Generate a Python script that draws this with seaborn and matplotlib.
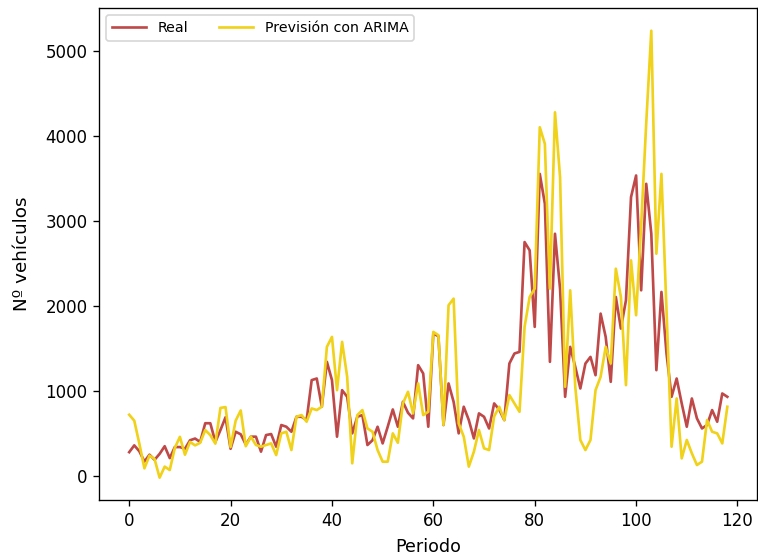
import numpy as np
import pandas as pd
import matplotlib
matplotlib.use("Agg")
import matplotlib.pyplot as plt
import seaborn as sns

# Monthly vehicle counts: observed values and the ARIMA forecast
periodo = list(range(119))

real = [280, 360, 290, 170, 250, 190, 260, 350, 210, 340, 340, 320, 420, 440, 400, 620, 620, 400, 540, 690, 320, 520, 490, 370,
        462, 462, 286, 481, 493, 344, 599, 579, 520, 696, 696, 657, 1127, 1146, 814, 1342, 1127, 462, 1009, 931, 501, 696, 716, 364, 420,
        579, 383, 579, 782, 579, 872, 743, 677, 1303, 1205, 579, 1675, 1643, 599, 1088, 872, 501, 814, 657, 442, 736, 696, 559, 853, 780,
        657, 1322, 1440, 1459, 2750, 2653, 1753, 3552, 3200, 1342, 2848, 2200, 931, 1518, 1283, 1029, 1322, 1400, 1185, 1909, 1635, 1107,
        2105, 1733, 2066, 3279, 3533, 2183, 3435, 2848, 1244, 2164, 1440, 931, 1146, 853, 579, 911, 677, 559, 599, 775, 638, 970, 931]

arima = [720, 650, 380, 90, 240, 200, -20, 110, 70, 330, 460, 250, 400, 360, 390, 540, 480, 380, 800, 810, 340, 650, 770, 350,
         462, 364, 344, 364, 383, 246, 501, 520, 305, 696, 716, 638, 794, 775, 814, 1518, 1635, 1009, 1577, 1166, 149, 716, 775, 559, 520,
         305, 168, 168, 501, 391, 853, 990, 736, 1088, 716, 755, 1694, 1655, 599, 2007, 2085, 618, 462, 110, 286, 540, 325, 305, 700, 814,
         657, 951, 853, 755, 1753, 2105, 2203, 4100, 3905, 2203, 4276, 3513, 1049, 2183, 1049, 423, 305, 423, 1009, 1166, 1518, 1322,
         2437, 2105, 1068, 2535, 1890, 2950, 4150, 5235, 2613, 3552, 1950, 344, 912, 207, 423, 266, 129, 168, 657, 520, 501, 383, 814]

df = pd.DataFrame({"Periodo": periodo, "Real": real, "Previsión con ARIMA": arima})

fig = plt.figure(figsize=(758 / 120, 559 / 120), dpi=120)
ax = fig.add_axes([0.131, 0.1055, 0.868, 0.8795])

sns.lineplot(data=df, x="Periodo", y="Real", ax=ax, color="#BF4848", linewidth=1.6, label="Real")
sns.lineplot(data=df, x="Periodo", y="Previsión con ARIMA", ax=ax, color="#F0D21A", linewidth=1.6,
             label="Previsión con ARIMA")

ax.set_xlabel("Periodo", fontsize=10.5, labelpad=5)
ax.set_ylabel("Nº vehículos", fontsize=11, labelpad=9)
ax.legend(loc="upper left", ncol=2, fontsize=8.5, handlelength=2.4, columnspacing=2.2)

fig.savefig("out.png", dpi=120)
